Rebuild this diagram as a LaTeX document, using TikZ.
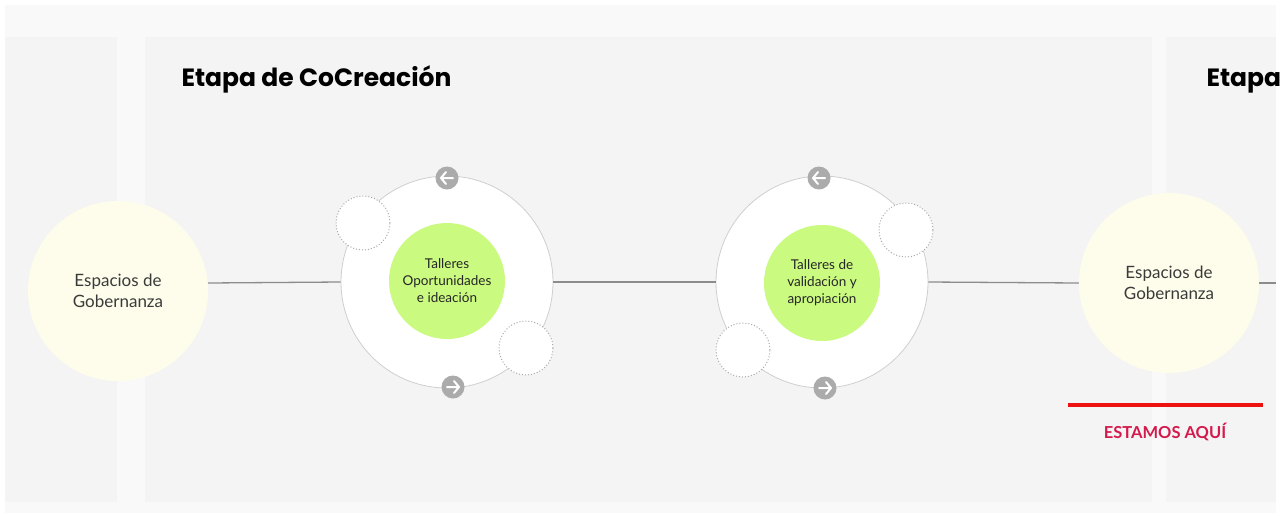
\documentclass[tikz,border=0pt]{standalone}
\usepackage{fontspec}
\setmainfont{Lato}
\newfontfamily\titlefont{Poppins}
\begin{document}
\begin{tikzpicture}[x=1pt,y=-1pt,
  panel/.style={fill=panelgray,draw=none},
  gov/.style={circle,fill=cream,draw=none,minimum size=180pt,inner sep=0pt,align=center,text=textgray,font=\fontsize{17}{21}\selectfont},
  stage/.style={circle,fill=white,draw=ringgray,line width=0.8pt,minimum size=212pt,inner sep=0pt},
  core/.style={circle,fill=limegreen,draw=none,minimum size=116pt,inner sep=0pt,align=center,text=black!85,font=\fontsize{13.5}{17}\selectfont},
  slot/.style={circle,fill=white,draw=dotgray,dotted,line width=1pt,minimum size=54pt,inner sep=0pt},
  navbtn/.style={circle,fill=btngray,draw=none,minimum size=23pt,inner sep=0pt},
  link/.style={draw=linegray,line width=1.3pt},
  heading/.style={anchor=base west,font=\titlefont\bfseries\fontsize{25}{29}\selectfont},
]
\definecolor{panelgray}{HTML}{F4F4F4}
\definecolor{bandgray}{HTML}{F9F9F9}
\definecolor{cream}{HTML}{FEFDEB}
\definecolor{textgray}{HTML}{3A3A3A}
\definecolor{ringgray}{HTML}{CFCFCF}
\definecolor{limegreen}{HTML}{CBFA80}
\definecolor{dotgray}{HTML}{A8A8A8}
\definecolor{btngray}{HTML}{ABABAB}
\definecolor{linegray}{HTML}{8C8C8C}
\definecolor{markred}{HTML}{EE1111}
\definecolor{labelred}{HTML}{D41A4C}
\useasboundingbox (0,0) rectangle (1286,515);
\fill[white] (0,0) rectangle (1286,515);
\fill[bandgray] (5,5) rectangle (1276,513);
\fill[panelgray] (5,37) rectangle (117,502);
\fill[panelgray] (145,37) rectangle (1152,502);
\fill[panelgray] (1166,37) rectangle (1276,502);

\node[heading] (t1) at (178,86) {Etapa de CoCreación};
\node[heading] (t2) at (1203,86) {Etapa};

\node[gov] (g1) at (118,291) {Espacios de\\Gobernanza};
\node[gov] (g2) at (1169,283) {Espacios de\\Gobernanza};
\coordinate (endR) at (1276,283);

\node[stage] (s1) at (447,282) {};
\node[stage] (s2) at (822,282) {};

\draw[link] (g1.east |- 0,283) -- (s1.west);
\draw[link] (s1.east) -- (s2.west);
\draw[link] (s2.east) -- (g2.west);
\draw[link] (g2.east) -- (endR);

\node[core] (c1) at (447,281) {Talleres\\Oportunidades\\e ideación};
\node[core] (c2) at (822,283) {Talleres de\\validación y\\apropiación};

\node[slot] (d1) at (363,223) {};
\node[slot] (d2) at (526,348) {};
\node[slot] (d3) at (906,230) {};
\node[slot] (d4) at (743,350) {};

\foreach \n/\x/\y/\dir in {b1/447/178/-1, b2/453/387/1, b3/819/178/-1, b4/825/388/1}{
  \node[navbtn] (\n) at (\x,\y) {};
  \draw[white,line width=2pt,line cap=round,line join=round]
    ([xshift=-6*\dir pt]\n.center) -- ([xshift=6*\dir pt]\n.center)
    ([xshift=1*\dir pt,yshift=6pt]\n.center) -- ([xshift=6*\dir pt]\n.center) -- ([xshift=1*\dir pt,yshift=-6pt]\n.center);
}

\coordinate (rA) at (1068,405);
\coordinate (rB) at (1263,405);
\draw[markred,line width=4.5pt] (rA) -- (rB);
\node[font=\bfseries\fontsize{16.5}{19}\selectfont,text=labelred] (here) at (1165,432) {ESTAMOS AQUÍ};
\end{tikzpicture}
\end{document}
